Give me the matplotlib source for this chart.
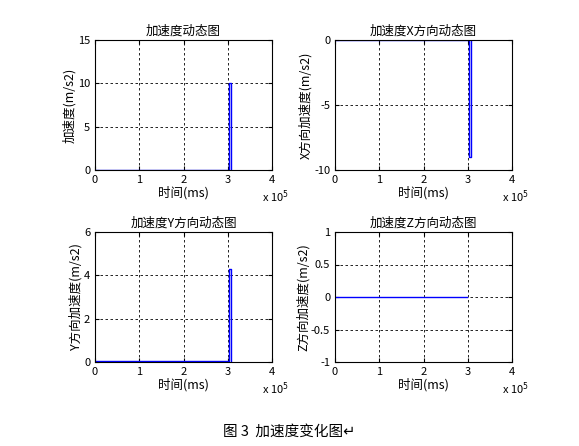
import matplotlib
matplotlib.use("Agg")
import matplotlib.pyplot as plt

plt.rcParams['font.family'] = ['Noto Sans CJK SC', 'DejaVu Sans']
plt.rcParams['font.size'] = 8
plt.rcParams['axes.unicode_minus'] = False

# time (ms) and acceleration series
t = [0, 1.0e5, 2.0e5, 3.0e5, 3.03e5, 3.03e5, 3.07e5, 3.07e5]
acc = [0.05, 0.05, 0.05, 0.05, 0.05, 10.0, 10.0, 0.0]
acc_x = [0, 0, 0, 0, 0, -9.0, -9.0, 0]
acc_y = [0.05, 0.05, 0.05, 0.05, 0.05, 4.3, 4.3, 0.0]
t_z = [0, 1.0e5, 2.0e5, 2.98e5]
acc_z = [0, 0, 0, 0]

titles = ['加速度动态图', '加速度X方向动态图', '加速度Y方向动态图', '加速度Z方向动态图']
ylabels = ['加速度(m/s2)', 'X方向加速度(m/s2)', 'Y方向加速度(m/s2)', 'Z方向加速度(m/s2)']
ylims = [(0, 15), (-10, 0), (0, 6), (-1, 1)]
yticks = [[0, 5, 10, 15], [-10, -5, 0], [0, 2, 4, 6], [-1, -0.5, 0, 0.5, 1]]
series = [(t, acc), (t, acc_x), (t, acc_y), (t_z, acc_z)]

fig = plt.figure(figsize=(5.79, 4.46), dpi=100)
W, H = 579, 446
boxes = [(95, 40), (335, 40), (95, 232), (335, 232)]
for i, (x0, y0) in enumerate(boxes):
    ax = fig.add_axes([x0 / W, 1 - (y0 + 130) / H, 177 / W, 130 / H])
    xs, ys = series[i]
    ax.plot(xs, ys, color='blue', lw=1)
    ax.set_xlim(0, 4e5)
    ax.set_ylim(*ylims[i])
    ax.set_xticks([0, 1e5, 2e5, 3e5, 4e5])
    ax.set_xticklabels(['0', '1', '2', '3', '4'])
    ax.set_yticks(yticks[i])
    ax.set_yticklabels([('%g' % v) for v in yticks[i]])
    ax.grid(True, color='black', linestyle=(0, (3, 3)), lw=0.6)
    ax.tick_params(direction='in', length=3, top=True, right=True)
    ax.set_title(titles[i], fontsize=9, pad=4)
    ax.set_xlabel('时间(ms)', fontsize=9, labelpad=1)
    ax.set_ylabel(ylabels[i], fontsize=9, labelpad=1)
    ax.text(1.02, -0.14, r'x 10$^5$', transform=ax.transAxes, fontsize=8,
            ha='center', va='top')

fig.text(0.5, 1 - 432 / H, '图 3  加速度变化图↵', ha='center', va='center', fontsize=10.5)
fig.savefig('out.png', dpi=100)
